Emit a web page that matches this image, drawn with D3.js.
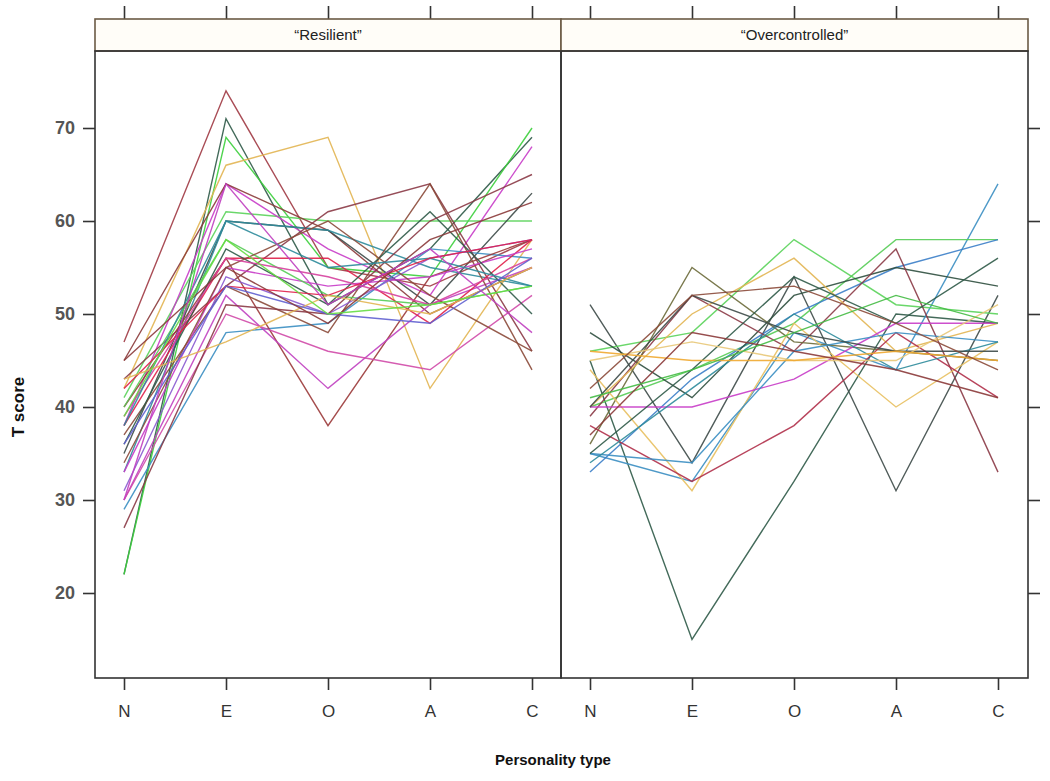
<!DOCTYPE html>
<html><head><meta charset="utf-8">
<script src="https://cdn.jsdelivr.net/npm/d3@7"></script>
<style>body{margin:0;background:#fff}svg{display:block}</style>
</head><body>
<script>
const categories = ["N","E","O","A","C"];
const panels = ["\u201cResilient\u201d","\u201cOvercontrolled\u201d"];
const yTicks = [20,30,40,50,60,70];

// Resilient profiles (N,E,O,A,C)
const resilientValues = [
 [47,74,55,53,58],[22,71,51,57,69],[22,69,55,54,70],[42,66,69,42,58],
 [41,61,60,60,60],[38,64,57,52,68],[45,64,59,50,55],[35,60,59,51,63],
 [33,60,59,55,53],[29,48,49,57,56],[43,53,61,64,46],[40,56,38,54,58],
 [30,52,42,51,55],[30,50,46,44,52],[37,53,48,64,44],[38,56,56,49,58],
 [33,55,53,54,57],[40,58,52,51,53],[36,57,51,61,50],[31,54,50,56,58],
 [27,51,50,60,65],[34,55,60,52,46],[39,56,54,51,56],[38,60,55,56,53],
 [42,53,52,56,58],[43,47,52,50,55],[36,53,50,49,56],[45,55,49,58,62],
 [39,58,50,51,53],[30,64,51,57,48]
];
const resilientColors = [
 "#a03a44","#2f5a48","#3ccf3c","#e2b552","#5ad35a","#c83cc8","#8b3a3a","#3d4a48",
 "#2e8b9b","#3b8ec2","#8b3a46","#9b3a3a","#c040c0","#d04aa8","#8b4a3a","#e0204a",
 "#c83cc8","#55cc55","#2f5a48","#8a5ad0","#8b3a46","#8b4a3a","#d6409f","#2e8b9b",
 "#e0204a","#e2b552","#6060d0","#8b3a3a","#66dd44","#c040c0"
];

// Overcontrolled profiles (N,E,O,A,C)
const overValues = [
 [45,15,32,50,49],[51,34,54,31,52],[35,32,48,44,64],[46,48,58,51,50],
 [40,44,49,58,58],[33,43,50,55,58],[48,41,52,55,53],[39,52,46,57,33],
 [36,55,47,46,45],[40,50,56,46,49],[44,31,49,40,47],[40,40,43,49,49],
 [38,32,38,48,41],[35,34,46,48,47],[34,42,50,44,47],[40,52,48,46,46],
 [35,44,54,49,56],[45,47,45,45,51],[46,45,45,46,45],[37,48,46,44,41],
 [42,52,53,49,44],[41,44,48,52,49]
];
const overColors = [
 "#2f5a48","#3d4a48","#3b8ec2","#5ad35a","#55cc55","#3b7ec8","#2f4f3f","#8b3a46",
 "#6b6a3a","#e2b552","#e8c060","#c83cc8","#b0304a","#3b8ec2","#2e8b9b","#3d4a48",
 "#2f5a48","#e8c878","#f0a830","#8b3a3a","#8b4a3a","#44bb44"
];

const W = 1050, H = 781;
const plotTop = 51, plotBottom = 678, stripTop = 19;
const panelX = [[95,561],[561,1028]];
const svg = d3.select("body").append("svg").attr("width",W).attr("height",H)
  .style("font-family","'Liberation Sans', Arial, sans-serif");

const y = d3.scaleLinear().domain([10.86,78.28]).range([plotBottom, plotTop]);

const data = [resilientValues, overValues];
const cols = [resilientColors, overColors];

panels.forEach((name,i)=>{
  const [x0,x1] = panelX[i];
  const x = d3.scalePoint().domain(categories).range([x0+29, x0+437]);
  const g = svg.append("g");
  const line = d3.line().x((d,k)=>x(categories[k])).y(d=>y(d));
  g.selectAll("path.series").data(data[i]).enter().append("path")
    .attr("class","series").attr("d",line).attr("fill","none")
    .attr("stroke",(d,k)=>cols[i][k]).attr("stroke-width",1.4).attr("opacity",0.9);

  const bx = d3.axisBottom(x).tickSize(12).tickPadding(12);
  const ba = svg.append("g").attr("transform",`translate(0,${plotBottom})`).call(bx);
  ba.select(".domain").remove();
  ba.selectAll("line").attr("stroke","#333").attr("stroke-width",1.6);
  ba.selectAll("text").attr("font-size",17).attr("fill","#333").attr("dy","0.9em");

  const tx = d3.axisTop(x).tickSize(13).tickFormat("");
  const ta = svg.append("g").attr("transform",`translate(0,${stripTop})`).call(tx);
  ta.select(".domain").remove();
  ta.selectAll("line").attr("stroke","#333").attr("stroke-width",1.6);

  svg.append("rect").attr("x",x0).attr("y",stripTop).attr("width",x1-x0).attr("height",plotTop-stripTop)
    .attr("fill","#fffdf8").attr("stroke","#6b5a45").attr("stroke-width",1.6);
  svg.append("text").attr("x",(x0+x1)/2).attr("y",(stripTop+plotTop)/2).attr("dy","0.35em")
    .attr("text-anchor","middle").attr("font-size",15).attr("fill","#222").text(name);

  svg.append("rect").attr("x",x0).attr("y",plotTop).attr("width",x1-x0).attr("height",plotBottom-plotTop)
    .attr("fill","none").attr("stroke","#333").attr("stroke-width",1.6);
});

const la = svg.append("g").attr("transform","translate(95,0)")
  .call(d3.axisLeft(y).tickValues(yTicks).tickSize(12).tickPadding(8));
la.select(".domain").remove();
la.selectAll("line").attr("stroke","#333").attr("stroke-width",1.6);
la.selectAll("text").attr("font-size",18).attr("font-weight","bold").attr("fill","#555");

const ra = svg.append("g").attr("transform","translate(1028,0)")
  .call(d3.axisRight(y).tickValues(yTicks).tickSize(12).tickFormat(""));
ra.select(".domain").remove();
ra.selectAll("line").attr("stroke","#333").attr("stroke-width",1.6);

svg.append("text").attr("transform","translate(24,407) rotate(-90)")
  .attr("text-anchor","middle").attr("font-size",17).attr("font-weight","bold").attr("fill","#111")
  .text("T score");
svg.append("text").attr("x",553).attr("y",765).attr("text-anchor","middle")
  .attr("font-size",15).attr("font-weight","bold").attr("fill","#111").text("Personality type");
</script>
</body></html>
